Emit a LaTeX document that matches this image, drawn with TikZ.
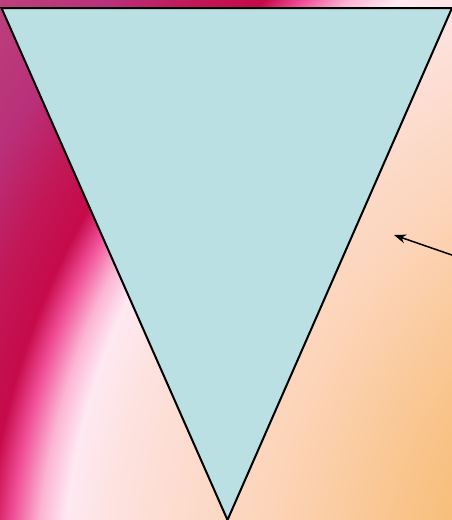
\documentclass[tikz,border=0pt]{standalone}
\usetikzlibrary{arrows.meta}
\definecolor{c0}{HTML}{F6B468}
\definecolor{c1}{HTML}{F8BE7A}
\definecolor{c2}{HTML}{FCD3B5}
\definecolor{c3}{HTML}{FDE2E0}
\definecolor{c4}{HTML}{FEE9F2}
\definecolor{c5}{HTML}{FBB5D3}
\definecolor{c6}{HTML}{F04F97}
\definecolor{c7}{HTML}{C60A4A}
\definecolor{c7b}{HTML}{C21756}
\definecolor{c8}{HTML}{B9307A}
\definecolor{c9}{HTML}{BC407B}
\definecolor{trifill}{HTML}{BAE0E3}
\pgfdeclareradialshading{bgshade}{\pgfpointorigin}{color(0bp)=(c0); color(7.725bp)=(c1); color(12bp)=(c2); color(16.175bp)=(c3); color(17.25bp)=(c4); color(17.9bp)=(c5); color(18.575bp)=(c6); color(19.175bp)=(c7); color(20.25bp)=(c7b); color(21.825bp)=(c8); color(23.95bp)=(c9); color(25bp)=(c9); color(100bp)=(c9)}
\tikzset{
  tri/.style={fill=trifill, draw=black, line width=2pt, line join=miter},
  pointer/.style={draw=black, line width=1.5pt, -{Stealth[length=12pt,width=9pt]}}
}
\begin{document}
\begin{tikzpicture}[x=1pt,y=-1pt]
\useasboundingbox (0,0) rectangle (452,520);
\clip (0,0) rectangle (452,520);
\shade[shading=bgshade] (752,593) circle (1000pt);
\draw[tri] (1.5,8) -- (452,8) -- (227.5,520) -- cycle;
\coordinate (src) at (475,263);
\coordinate (tgt) at (394,235);
\draw[pointer] (src) -- (tgt);
\end{tikzpicture}
\end{document}
